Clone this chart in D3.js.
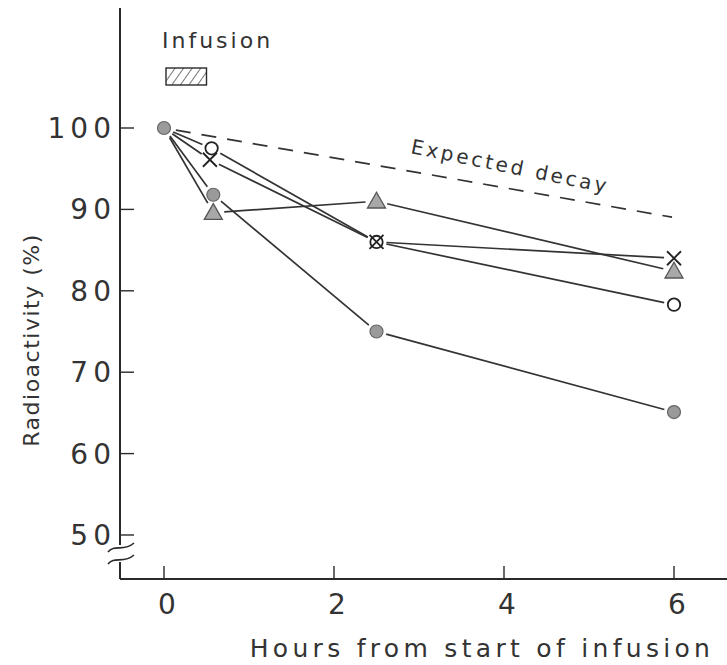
<!DOCTYPE html>
<html>
<head>
<script src="https://cdn.jsdelivr.net/npm/d3@7"></script>
<style>
  body { margin: 0; background: #fff; }
  svg text { font-family: "DejaVu Sans", sans-serif; fill: #333; }
</style>
</head>
<body>
<svg width="727" height="665"></svg>
<script>
// values
var xTicks = [0, 2, 4, 6];
var yTicks = [50, 60, 70, 80, 90, 100];
var infusion = [0, 0.5];

var filledT = [0, 0.58, 2.5, 6];
var filledV = [100, 91.8, 75, 65.1];
var openT = [0, 0.56, 2.5, 6];
var openV = [100, 97.5, 86, 78.3];
var crossT = [0, 0.54, 2.5, 6];
var crossV = [100, 96.1, 86, 84];
var triT = [0, 0.58, 2.5, 6];
var triV = [100, 89.6, 91, 82.4];
var decayT = [0, 6];
var decayV = [100, 89];

var svg = d3.select("svg");
var x = d3.scaleLinear().domain([0, 6]).range([164, 674]);
var y = d3.scaleLinear().domain([50, 100]).range([535, 128]);
var baseY = 579, axisX = 120;

// axes
var ink = "#2a2a2a";
svg.append("line").attr("x1", axisX).attr("x2", 727).attr("y1", baseY).attr("y2", baseY)
  .attr("stroke", ink).attr("stroke-width", 2);
svg.append("line").attr("x1", axisX).attr("x2", axisX).attr("y1", 8).attr("y2", 545)
  .attr("stroke", ink).attr("stroke-width", 2);
svg.append("line").attr("x1", axisX).attr("x2", axisX).attr("y1", 562).attr("y2", baseY)
  .attr("stroke", ink).attr("stroke-width", 2);
// break squiggles
[547, 559].forEach(function (yy) {
  svg.append("path")
    .attr("d", "M108," + (yy + 5) + " C114," + (yy - 3) + " 124," + (yy + 5) + " 134," + (yy - 4))
    .attr("fill", "none").attr("stroke", ink).attr("stroke-width", 1.6);
});

svg.selectAll(".yt").data(yTicks).enter().append("line")
  .attr("x1", axisX).attr("x2", axisX + 14)
  .attr("y1", function (d) { return y(d); }).attr("y2", function (d) { return y(d); })
  .attr("stroke", ink).attr("stroke-width", 1.4);
svg.selectAll(".ytl").data(yTicks).enter().append("text")
  .attr("x", 116).attr("y", function (d) { return y(d) + 10; })
  .attr("text-anchor", "end").style("font-size", "28px").style("letter-spacing", "5px")
  .text(function (d) { return d; });

svg.selectAll(".xt").data(xTicks).enter().append("line")
  .attr("x1", function (d) { return x(d); }).attr("x2", function (d) { return x(d); })
  .attr("y1", baseY).attr("y2", baseY - 13)
  .attr("stroke", ink).attr("stroke-width", 1.4);
svg.selectAll(".xtl").data(xTicks).enter().append("text")
  .attr("x", function (d) { return x(d) + 3; }).attr("y", 614)
  .attr("text-anchor", "middle").style("font-size", "28px")
  .text(function (d) { return d; });

svg.append("text").attr("x", 482).attr("y", 657).attr("text-anchor", "middle")
  .style("font-size", "25px").style("letter-spacing", "4.3px")
  .text("Hours from start of infusion");
svg.append("text").attr("transform", "translate(39,340) rotate(-90)")
  .attr("text-anchor", "middle").style("font-size", "22px").style("letter-spacing", "1.5px")
  .text("Radioactivity  (%)");

// infusion legend
var defs = svg.append("defs");
var pat = defs.append("pattern").attr("id", "hatch").attr("patternUnits", "userSpaceOnUse")
  .attr("width", 7).attr("height", 7).attr("patternTransform", "rotate(35)");
pat.append("line").attr("x1", 0).attr("x2", 0).attr("y1", 0).attr("y2", 7)
  .attr("stroke", ink).attr("stroke-width", 1.3);
svg.append("rect").attr("x", x(infusion[0]) + 2).attr("y", 68)
  .attr("width", x(infusion[1]) - x(infusion[0]) - 2).attr("height", 17)
  .attr("fill", "url(#hatch)").attr("stroke", ink).attr("stroke-width", 1.4);
svg.append("text").attr("x", 162).attr("y", 48).style("font-size", "22px")
  .style("letter-spacing", "3px").text("Infusion");

// lines with gaps at markers
function pts(t, v) { return t.map(function (d, i) { return [x(d), y(v[i])]; }); }
function drawGapped(p, gap, dash, endGap) {
  for (var i = 0; i < p.length - 1; i++) {
    var a = p[i], b = p[i + 1];
    var dx = b[0] - a[0], dy = b[1] - a[1], L = Math.sqrt(dx * dx + dy * dy);
    var ux = dx / L, uy = dy / L;
    var g2 = endGap !== undefined ? endGap : gap;
    svg.append("line")
      .attr("x1", a[0] + ux * gap).attr("y1", a[1] + uy * gap)
      .attr("x2", b[0] - ux * g2).attr("y2", b[1] - uy * g2)
      .attr("stroke", "#333").attr("stroke-width", 1.7)
      .attr("stroke-dasharray", dash || null);
  }
}
drawGapped(pts(filledT, filledV), 10);
drawGapped(pts(openT, openV), 10);
drawGapped(pts(crossT, crossV), 10);
drawGapped(pts(triT, triV), 11);
drawGapped(pts(decayT, decayV), 12, "15,11", 2);

svg.append("text")
  .attr("transform", "translate(410,153) rotate(11.5)")
  .style("font-size", "20px").style("letter-spacing", "3px")
  .text("Expected  decay");

// markers
var pF = pts(filledT, filledV);
svg.selectAll(".mf").data(pF).enter().append("circle")
  .attr("cx", function (d) { return d[0]; }).attr("cy", function (d) { return d[1]; })
  .attr("r", 6.5).attr("fill", "#9a9a9a").attr("stroke", "#666").attr("stroke-width", 1.2);

var pO = pts(openT, openV).slice(1);
svg.selectAll(".mo").data(pO).enter().append("circle")
  .attr("cx", function (d) { return d[0]; }).attr("cy", function (d) { return d[1]; })
  .attr("r", 6.2).attr("fill", "none").attr("stroke", "#222").attr("stroke-width", 1.8);

var pX = pts(crossT, crossV).slice(1);
svg.selectAll(".mx").data(pX).enter().append("path")
  .attr("d", function (d) {
    var s = 7;
    return "M" + (d[0] - s) + "," + (d[1] - s) + "L" + (d[0] + s) + "," + (d[1] + s) +
      "M" + (d[0] - s) + "," + (d[1] + s) + "L" + (d[0] + s) + "," + (d[1] - s);
  })
  .attr("stroke", "#222").attr("stroke-width", 1.8);

var pT = pts(triT, triV).slice(1);
svg.selectAll(".mt").data(pT).enter().append("path")
  .attr("d", function (d) {
    var s = 9;
    return "M" + d[0] + "," + (d[1] - s) + "L" + (d[0] + s) + "," + (d[1] + s * 0.75) +
      "L" + (d[0] - s) + "," + (d[1] + s * 0.75) + "Z";
  })
  .attr("fill", "#a8a8a8").attr("stroke", "#555").attr("stroke-width", 1.3);
</script>
</body>
</html>
